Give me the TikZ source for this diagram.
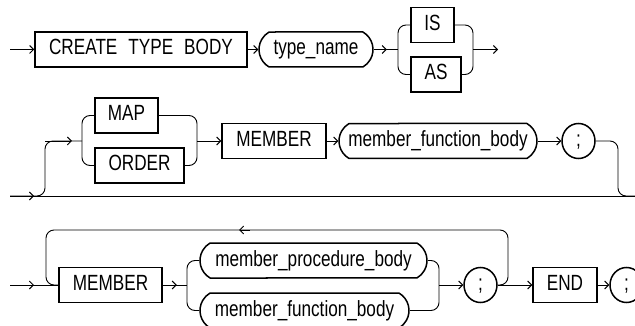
\documentclass[tikz,border=0pt]{standalone}
\usepackage{fontspec}
\setmainfont[FakeStretch=0.78]{Liberation Sans}
\usetikzlibrary{arrows.meta,shapes.misc,shapes.geometric}

\begin{document}
\begin{tikzpicture}[x=1pt,y=-1pt,
  kwbox/.style={draw, line width=1.5pt, rectangle, inner sep=0pt, minimum height=35pt,
    text height=15pt, text depth=4pt, font=\fontsize{22}{26}\selectfont},
  term/.style={kwbox, rounded rectangle, rounded rectangle arc length=120},
  semi/.style={kwbox, ellipse, minimum width=33pt},
  conn/.style={line width=0.9pt, rounded corners=8pt},
  arr/.style={line width=0.9pt, -{Straight Barb[length=4pt,width=8pt]}}]
  \useasboundingbox (0,0) rectangle (635,326);
  \clip (0,0) rectangle (635,326);

  % Row 1
  \coordinate (s1) at (10,49.5);
  \node[kwbox, minimum width=212pt] (ctb) at (141,49.5) {CREATE\enspace TYPE\enspace BODY};
  \node[term, minimum width=114pt] (tname) at (316,49.5) {type\_name};
  \node[kwbox, minimum width=43pt] (is) at (432.5,25) {IS};
  \node[kwbox, minimum width=50pt] (as) at (436,74.5) {AS};
  \coordinate (lr1) at (398,49.5);
  \coordinate (rr1) at (473,49.5);
  \coordinate (e1) at (498,49.5);
  \draw[arr] (s1) -- (ctb.west);
  \draw[arr] (ctb.east) -- (tname.west);
  \draw[arr] (tname.east) -- ++(13,0);
  \draw[conn] (tname.east) -- (lr1);
  \draw[conn] (is.west) -| (lr1) |- (as.west);
  \draw[conn] (is.east) -| (rr1) |- (as.east);
  \draw[arr] (rr1) -- (e1);

  % Row 2
  \coordinate (s2) at (10,196);
  \coordinate (e2) at (635,196);
  \node[kwbox, minimum width=63pt] (map) at (126.5,115.5) {MAP};
  \node[kwbox, minimum width=89pt] (order) at (139.5,165.5) {ORDER};
  \node[kwbox, minimum width=104pt] (mem1) at (274,141) {MEMBER};
  \node[term, minimum width=198pt] (mfb1) at (438,141) {member\_function\_body};
  \node[semi] (semi1) at (578.5,141) {;};
  \coordinate (up2) at (45,141);
  \coordinate (lr2) at (82,141);
  \coordinate (rr2) at (197,141);
  \draw[conn] (s2) -- (e2);
  \draw[arr] (s2) -- ++(24,0);
  \draw[conn] (s2) -| (up2) -- (lr2);
  \draw[arr] (up2) -- ++(27,0);
  \draw[conn] (map.west) -| (lr2) |- (order.west);
  \draw[conn] (map.east) -| (rr2) |- (order.east);
  \draw[arr] (rr2) -- (mem1.west);
  \draw[arr] (mem1.east) -- (mfb1.west);
  \draw[arr] (mfb1.east) -- (semi1.west);
  \draw[conn] (semi1.east) -| (618,196) -- (e2);

  % Row 3
  \coordinate (s3) at (10,285);
  \node[kwbox, minimum width=103pt] (mem2) at (110.5,285) {MEMBER};
  \node[term, minimum width=227pt] (mpb) at (313.5,260.5) {member\_procedure\_body};
  \node[term, minimum width=209pt] (mfb2) at (304.5,310.5) {member\_function\_body};
  \node[semi] (semi2) at (480.5,285) {;};
  \node[kwbox, minimum width=64pt] (endkw) at (565,285) {END};
  \node[semi] (semi3) at (626.5,285) {;};
  \coordinate (lr3) at (187,285);
  \coordinate (rr3) at (439,285);
  \coordinate (loop) at (250,230);
  \draw[conn] (s3) -- (mem2.west);
  \draw[arr] (s3) -- ++(24,0);
  \draw[conn] (semi2.east) -| (508,230) -| (46,285) -- (mem2.west);
  \draw[arr] (loop) -- ++(-11,0);
  \draw[arr] (mem2.east) -- ++(14,0);
  \draw[conn] (mem2.east) -- (lr3);
  \draw[conn] (mpb.west) -| (lr3) |- (mfb2.west);
  \draw[conn] (mpb.east) -| (rr3) |- (mfb2.east);
  \draw[arr] (rr3) -- (semi2.west);
  \draw[arr] (semi2.east) -- (endkw.west);
  \draw[arr] (endkw.east) -- (semi3.west);
\end{tikzpicture}
\end{document}
